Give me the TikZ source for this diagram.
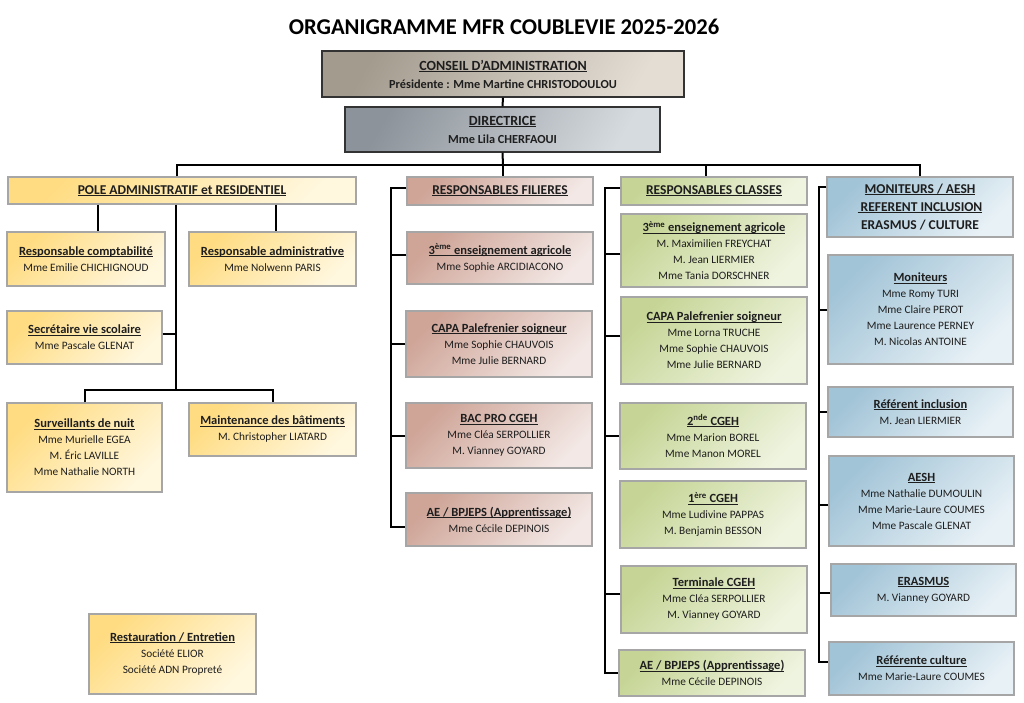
\documentclass[tikz,border=0pt]{standalone}
\usepackage{fontspec}
\setmainfont{Carlito}
\usetikzlibrary{calc}
\definecolor{txt}{HTML}{1E1E1E}
\definecolor{bgray}{HTML}{A6A6A6}
\definecolor{conA}{HTML}{A39B8E}
\definecolor{conB}{HTML}{E3DDD4}
\definecolor{dirA}{HTML}{8C939A}
\definecolor{dirB}{HTML}{D6DBDF}
\definecolor{yelA}{HTML}{FFDC82}
\definecolor{yelB}{HTML}{FFF7DE}
\definecolor{filA}{HTML}{CFA598}
\definecolor{filB}{HTML}{F3E8E5}
\definecolor{clsA}{HTML}{C6D596}
\definecolor{clsB}{HTML}{EFF4E0}
\definecolor{monA}{HTML}{A2C4D7}
\definecolor{monB}{HTML}{E8F1F6}
\newcommand\ulx[1]{\setbox0\hbox{#1}\rlap{\rule[-1.7pt]{\wd0}{0.8pt}}\box0}
\newcommand\BX[7]{\node[#6, minimum width={(#4)-(#2)}, minimum height={(#5)-(#3)}] (#1) at ({((#2)+(#4))/2},{((#3)+(#5))/2}) {#7};}
\tikzset{
  box/.style={draw=bgray, line width=1.1pt, inner sep=0pt, align=center, text=txt,
    font=\fontsize{11.3}{16}\selectfont},
  topbox/.style={box, draw=black!80, line width=1.2pt, font=\bfseries\fontsize{12.3}{18}\selectfont},
  hdr/.style={font=\bfseries\fontsize{13.5}{18}\selectfont},
  con/.style={topbox, top color=conA, bottom color=conB, shading angle=60},
  dir/.style={topbox, top color=dirA, bottom color=dirB, shading angle=60},
  yel/.style={box, top color=yelA, bottom color=yelB, shading angle=45},
  fil/.style={box, top color=filA, bottom color=filB, shading angle=45},
  cls/.style={box, top color=clsA, bottom color=clsB, shading angle=45},
  mon/.style={box, top color=monA, bottom color=monB, shading angle=45},
  conn/.style={draw=black, line width=2pt},
}
\newcommand\hd[1]{\textbf{\fontsize{12.5}{16}\selectfont\ulx{#1}}}
\newcommand\bighd[1]{{\fontsize{14}{18}\selectfont\ulx{#1}}}
\begin{document}
\begin{tikzpicture}[x=1pt,y=-1pt]
\useasboundingbox (0,0) rectangle (1024,703);
\node[font=\bfseries\fontsize{22.6}{26}\selectfont, text=black] (title) at (504,27) {ORGANIGRAMME MFR COUBLEVIE 2025-2026};

\BX{conseil}{322}{51}{684}{97}{con}{\bighd{CONSEIL D’ADMINISTRATION}\\Présidente : Mme Martine CHRISTODOULOU}
\BX{dir}{345}{107}{660}{152}{dir}{\bighd{DIRECTRICE}\\Mme Lila CHERFAOUI}

% pole
\BX{pole}{8}{177}{356}{204}{yel,hdr}{\ulx{POLE ADMINISTRATIF et RESIDENTIEL}}
\BX{compta}{7}{232}{165}{286}{yel}{\hd{Responsable comptabilité}\\Mme Emilie CHICHIGNOUD}
\BX{admin}{189}{232}{356}{286}{yel}{\hd{Responsable administrative}\\Mme Nolwenn PARIS}
\BX{sec}{7}{311}{162}{364}{yel}{\hd{Secrétaire vie scolaire}\\Mme Pascale GLENAT}
\BX{surv}{7}{403}{162}{492}{yel}{\hd{Surveillants de nuit}\\Mme Murielle EGEA\\M. Éric LAVILLE\\Mme Nathalie NORTH}
\BX{maint}{189}{403}{356}{456}{yel}{\hd{Maintenance des bâtiments}\\M. Christopher LIATARD}
\BX{resto}{89}{614}{256}{694}{yel}{\hd{Restauration / Entretien}\\Société ELIOR\\Société ADN Propreté}

% filieres
\BX{fh}{407}{177}{593}{205}{fil,hdr}{\ulx{RESPONSABLES FILIERES}}
\BX{f1}{407}{232}{593}{284}{fil}{\hd{3\textsuperscript{ème} enseignement agricole}\\Mme Sophie ARCIDIACONO}
\BX{f2}{406}{311}{592}{377}{fil}{\hd{CAPA Palefrenier soigneur}\\Mme Sophie CHAUVOIS\\Mme Julie BERNARD}
\BX{f3}{406}{403}{592}{468}{fil}{\hd{BAC PRO CGEH}\\Mme Cléa SERPOLLIER\\M. Vianney GOYARD}
\BX{f4}{406}{493}{592}{546}{fil}{\hd{AE / BPJEPS (Apprentissage)}\\Mme Cécile DEPINOIS}

% classes
\BX{ch}{621}{177}{807}{205}{cls,hdr}{\ulx{RESPONSABLES CLASSES}}
\BX{c1}{621}{214}{807}{287}{cls}{\hd{3\textsuperscript{ème} enseignement agricole}\\M. Maximilien FREYCHAT\\M. Jean LIERMIER\\Mme Tania DORSCHNER}
\BX{c2}{621}{297}{807}{384}{cls}{\hd{CAPA Palefrenier soigneur}\\Mme Lorna TRUCHE\\Mme Sophie CHAUVOIS\\Mme Julie BERNARD}
\BX{c3}{620}{403}{806}{469}{cls}{\hd{2\textsuperscript{nde} CGEH}\\Mme Marion BOREL\\Mme Manon MOREL}
\BX{c4}{620}{481}{806}{548}{cls}{\hd{1\textsuperscript{ère} CGEH}\\Mme Ludivine PAPPAS\\M. Benjamin BESSON}
\BX{c5}{621}{566}{807}{633}{cls}{\hd{Terminale CGEH}\\Mme Cléa SERPOLLIER\\M. Vianney GOYARD}
\BX{c6}{619}{650}{805}{696}{cls}{\hd{AE / BPJEPS (Apprentissage)}\\Mme Cécile DEPINOIS}

% moniteurs
\BX{mh}{827}{177}{1013}{237}{mon,hdr}{\ulx{MONITEURS / AESH}\\\ulx{~REFERENT INCLUSION}\\ERASMUS / CULTURE}
\BX{m1}{828}{255}{1013}{364}{mon}{\hd{Moniteurs}\\Mme Romy TURI\\Mme Claire PEROT\\Mme Laurence PERNEY\\M. Nicolas ANTOINE}
\BX{m2}{828}{387}{1013}{437}{mon}{\hd{Référent inclusion}\\M. Jean LIERMIER}
\BX{m3}{829}{456}{1014}{546}{mon}{\hd{AESH}\\Mme Nathalie DUMOULIN\\Mme Marie-Laure COUMES\\Mme Pascale GLENAT}
\BX{m4}{831}{564}{1016}{616}{mon}{\hd{ERASMUS}\\M. Vianney GOYARD}
\BX{m5}{829}{642}{1014}{695}{mon}{\hd{Référente culture}\\Mme Marie-Laure COUMES}

% connectors top
\coordinate (bus) at (503,165);
\coordinate (bp) at (177,165);
\coordinate (bc) at (706,165);
\coordinate (bm) at (920,165);
\draw[conn] (conseil.south) -- (dir.north);
\draw[conn] (dir.south) -- (bus);
\draw[conn] (bp |- pole.north) -- (bp) -- (bm) -- (bm |- mh.north);
\draw[conn] (bus) -- (bus |- fh.north);
\draw[conn] (bc) -- (bc |- ch.north);

% pole connectors
\coordinate (ps) at (176,390);
\coordinate (pc) at (98,0);
\coordinate (pa) at (276,0);
\draw[conn] (ps |- pole.south) -- (ps);
\draw[conn] (pc |- pole.south) -- (pc |- compta.north);
\draw[conn] (pa |- pole.south) -- (pa |- admin.north);
\draw[conn] ([yshift=3.5pt]sec.east) -- ([yshift=3.5pt]sec.east -| ps);
\draw[conn] (surv.north) |- (ps) -| (maint.north);

% filieres connectors
\coordinate (fs) at (391,0);
\draw[conn] ([yshift=3pt]fh.west) -| ([yshift=-7pt]f4.west -| fs) -- ([yshift=-7pt]f4.west);
\draw[conn] ([yshift=3pt]f1.west) -- ([yshift=3pt]f1.west -| fs);
\draw[conn] (f2.west) -- (f2.west -| fs);
\draw[conn] (f3.west) -- (f3.west -| fs);

% classes connectors
\coordinate (cs) at (605,0);
\draw[conn] ([yshift=3pt]ch.west) -| (cs |- c6.west) -- (c6.west);
\draw[conn] ([yshift=-3pt]c1.west) -- ([yshift=-3pt]c1.west -| cs);
\draw[conn] ([yshift=5pt]c2.west) -- ([yshift=5pt]c2.west -| cs);
\draw[conn] (c3.west) -- (c3.west -| cs);
\draw[conn] ([yshift=6pt]c5.west) -- ([yshift=6pt]c5.west -| cs);

% moniteurs connectors
\coordinate (ms) at (819,0);
\draw[conn] ([yshift=-11pt]mh.north west) -| ([yshift=7pt]m5.west -| ms) -- ([yshift=7pt]m5.west);
\draw[conn] (m1.west) -- (m1.west -| ms);
\draw[conn] (m2.west) -- (m2.west -| ms);
\draw[conn] ([yshift=-4pt]m3.west) -- ([yshift=-4pt]m3.west -| ms);
\draw[conn] ([yshift=-3pt]m4.west) -- ([yshift=-3pt]m4.west -| ms);
\end{tikzpicture}
\end{document}
